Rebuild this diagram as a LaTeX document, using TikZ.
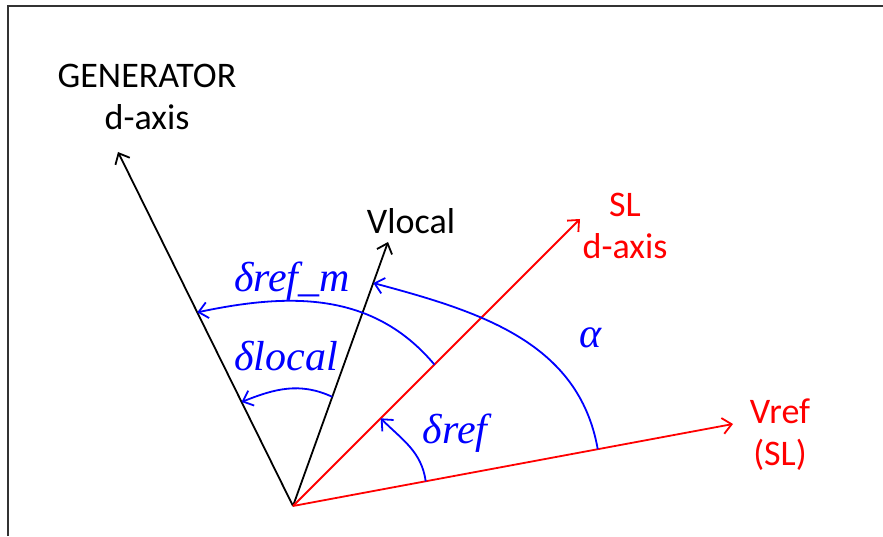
\documentclass[tikz,border=0pt]{standalone}
\usepackage{fontspec}
\setmainfont{Carlito}
\newfontfamily\grkfont{Liberation Serif}
\usetikzlibrary{arrows.meta}
\begin{document}
\begin{tikzpicture}[x=1pt,y=1pt,
  tip/.style={-{Straight Barb[length=9pt,width=16pt]}},
  blackax/.style={line width=1.8pt, black, tip},
  redax/.style={line width=1.8pt, red, tip},
  angarc/.style={line width=1.8pt, blue, tip},
  lbl/.style={inner sep=0pt, anchor=base, font=\fontsize{36}{42}\selectfont},
  glbl/.style={inner sep=0pt, anchor=base, text=blue, font=\fontsize{42}{46}\selectfont\grkfont\itshape}]
\useasboundingbox (0,0) rectangle (883,536);
\draw[line width=2pt, black!80] (8,0) -- (8,530) -- (883,530);
% origin and axis tips
\coordinate (O) at (293,30);
\coordinate (gen) at (118,384);
\coordinate (vloc) at (388,294);
\coordinate (sl) at (580,317);
\coordinate (vref) at (733,112);
\draw[blackax] (O) -- (gen);
\draw[blackax] (O) -- (vloc);
\draw[redax] (O) -- (sl);
\draw[redax] (O) -- (vref);
% arc end points
\coordinate (a1s) at ([shift={(70.2:116)}]O);
\coordinate (a1e) at ([shift={(116.3:116)}]O);
\coordinate (a2s) at ([shift={(45:200)}]O);
\coordinate (a2e) at ([shift={(116.3:216)}]O);
\coordinate (a3s) at ([shift={(10.56:310)}]O);
\coordinate (a3e) at ([shift={(70.2:237)}]O);
\coordinate (a4s) at ([shift={(10.56:135)}]O);
\coordinate (a4e) at ([shift={(45:124)}]O);
\draw[angarc] (a1s) to[out=155,in=22] (a1e);
\draw[angarc] (a2s) to[out=130,in=12] (a2e);
\draw[angarc] (a3s) to[out=100,in=-15] (a3e);
\draw[angarc] (a4s) to[out=98,in=-45] (a4e);
% labels
\node[lbl] (genlbl) at (147,448) {\begin{tabular}[t]{@{}c@{}}GENERATOR\\d-axis\end{tabular}};
\node[lbl] (vloclbl) at (411,302) {Vlocal};
\node[lbl, text=red] (sllbl) at (625,319) {\begin{tabular}[t]{@{}c@{}}SL\\d-axis\end{tabular}};
\node[lbl, text=red] (vreflbl) at (780,113) {\begin{tabular}[t]{@{}c@{}}Vref\\(SL)\end{tabular}};
\node[glbl] (drefm) at (292,244) {δref\_m};
\node[glbl] (dloc) at (286,166) {δlocal};
\node[glbl] (dref) at (455,93) {δref};
\node[glbl] (alpha) at (591,189) {α};
\end{tikzpicture}
\end{document}
